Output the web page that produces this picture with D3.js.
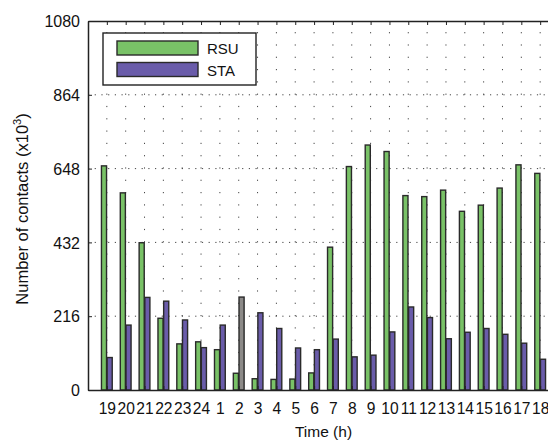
<!DOCTYPE html>
<html>
<head>
<meta charset="utf-8">
<script src="https://cdn.jsdelivr.net/npm/d3@7"></script>
<style>
  body { margin: 0; background: #fff; }
  svg { display: block; font-family: "Liberation Sans", Arial, sans-serif; }
</style>
</head>
<body>
<svg width="548" height="441"></svg>
<script>
// hours of the day, in plotting order
var hours = ["19", "20", "21", "22", "23", "24", "1", "2", "3", "4", "5", "6",
             "7", "8", "9", "10", "11", "12", "13", "14", "15", "16", "17", "18"];
// contacts, thousands
var rsu = [656, 577, 431, 210, 135, 141, 118, 49, 33, 31, 32, 50,
           418, 654, 717, 698, 569, 566, 585, 523, 541, 591, 659, 634];
var sta = [95, 190, 271, 260, 205, 124, 190, 272, 226, 180, 123, 118,
           149, 97, 102, 170, 243, 212, 150, 169, 180, 163, 137, 90];
var seriesNames = ["RSU", "STA"];
var yTicks = [0, 216, 432, 648, 864, 1080];
var greyBars = ["2"]; // STA bar drawn grey in the original

var colors = { RSU: "#79c267", STA: "#6a5caa" };

var svg = d3.select("svg"),
    mLeft = 88, mTop = 21,
    width = 471, height = 369;

var g = svg.append("g").attr("transform", "translate(" + mLeft + "," + mTop + ")");

// positions 0..25, hours sit on 1..24
var x = d3.scaleLinear().domain([0, hours.length + 1]).range([0, width]);
var y = d3.scaleLinear().domain([0, 1080]).range([height, 0]);
var step = x(1) - x(0),
    barW = step * 0.27;

// grid
g.selectAll(".vgrid")
    .data(hours)
    .enter().append("line")
    .attr("x1", function(d, i) { return x(i + 1); })
    .attr("x2", function(d, i) { return x(i + 1); })
    .attr("y1", height).attr("y2", 0)
    .attr("stroke", "#444").attr("stroke-width", 1)
    .attr("stroke-dasharray", "1.2,11.1");

g.selectAll(".hgrid")
    .data(yTicks.slice(1, -1))
    .enter().append("line")
    .attr("x1", 0).attr("x2", width)
    .attr("y1", function(d) { return y(d); })
    .attr("y2", function(d) { return y(d); })
    .attr("stroke", "#444").attr("stroke-width", 1)
    .attr("stroke-dasharray", "1.2,5.5");

// bars
var groups = g.selectAll(".grp")
    .data(hours)
    .enter().append("g")
    .attr("transform", function(d, i) { return "translate(" + x(i + 1) + ",0)"; });

groups.append("rect")
    .attr("x", -barW - 0.3)
    .attr("y", function(d, i) { return y(rsu[i]); })
    .attr("width", barW)
    .attr("height", function(d, i) { return height - y(rsu[i]); })
    .attr("fill", colors.RSU)
    .attr("stroke", "#2a2a2a").attr("stroke-width", 1.4);

groups.append("rect")
    .attr("x", 0.3)
    .attr("y", function(d, i) { return y(sta[i]); })
    .attr("width", barW)
    .attr("height", function(d, i) { return height - y(sta[i]); })
    .attr("fill", function(d) { return greyBars.indexOf(d) >= 0 ? "#8c8a88" : colors.STA; })
    .attr("stroke", "#2a2a2a").attr("stroke-width", 1.4);

// axes
var xAxis = d3.axisBottom(x)
    .tickValues(d3.range(1, hours.length + 1))
    .tickFormat(function(d) { return hours[d - 1]; })
    .tickSizeInner(-4).tickSizeOuter(0).tickPadding(13);

var gx = g.append("g")
    .attr("transform", "translate(0," + height + ")")
    .call(xAxis);

var gxTop = g.append("g")
    .call(d3.axisTop(x).tickValues(d3.range(1, hours.length + 1))
        .tickFormat("").tickSizeInner(-4).tickSizeOuter(0));

var gy = g.append("g")
    .call(d3.axisLeft(y).tickValues(yTicks).tickFormat(d3.format("d"))
        .tickSizeInner(-4).tickSizeOuter(0).tickPadding(8));

[gx, gxTop, gy].forEach(function(a) {
    a.select(".domain").attr("stroke", "#222").attr("stroke-width", 1.5);
    a.selectAll(".tick line").attr("stroke", "#222").attr("stroke-width", 1);
    a.selectAll("text").attr("font-size", 16).attr("fill", "#111")
        .attr("font-family", "Liberation Sans, Arial, sans-serif");
});
gy.selectAll(".tick text").attr("dy", "0.36em");
// the last label runs off the right edge, as in the original
gx.selectAll(".tick text").attr("font-size", 15.6);

// axis labels
svg.append("text")
    .attr("x", mLeft + width / 2).attr("y", 437)
    .attr("text-anchor", "middle")
    .attr("font-size", 15.5).attr("fill", "#111")
    .text("Time (h)");

var yl = svg.append("text")
    .attr("transform", "translate(28,209) rotate(-90)")
    .attr("text-anchor", "middle")
    .attr("font-size", 16.5).attr("fill", "#111");
yl.append("tspan").text("Number of contacts (x10");
yl.append("tspan").attr("dy", -7).attr("font-size", 11).text("3");
yl.append("tspan").attr("dy", 7).text(")");

// legend
var leg = svg.append("g").attr("transform", "translate(103,33)");
leg.append("rect")
    .attr("width", 153).attr("height", 52)
    .attr("fill", "#fff").attr("stroke", "#222").attr("stroke-width", 1.4);

var items = leg.selectAll(".item")
    .data(seriesNames)
    .enter().append("g")
    .attr("transform", function(d, i) { return "translate(14," + (8 + i * 21.5) + ")"; });

items.append("rect")
    .attr("width", 81).attr("height", 14)
    .attr("fill", function(d) { return colors[d]; })
    .attr("stroke", "#2a2a2a").attr("stroke-width", 1.4);

items.append("text")
    .attr("x", 90).attr("y", 13)
    .attr("font-size", 15).attr("fill", "#111")
    .text(function(d) { return d; });
</script>
</body>
</html>
